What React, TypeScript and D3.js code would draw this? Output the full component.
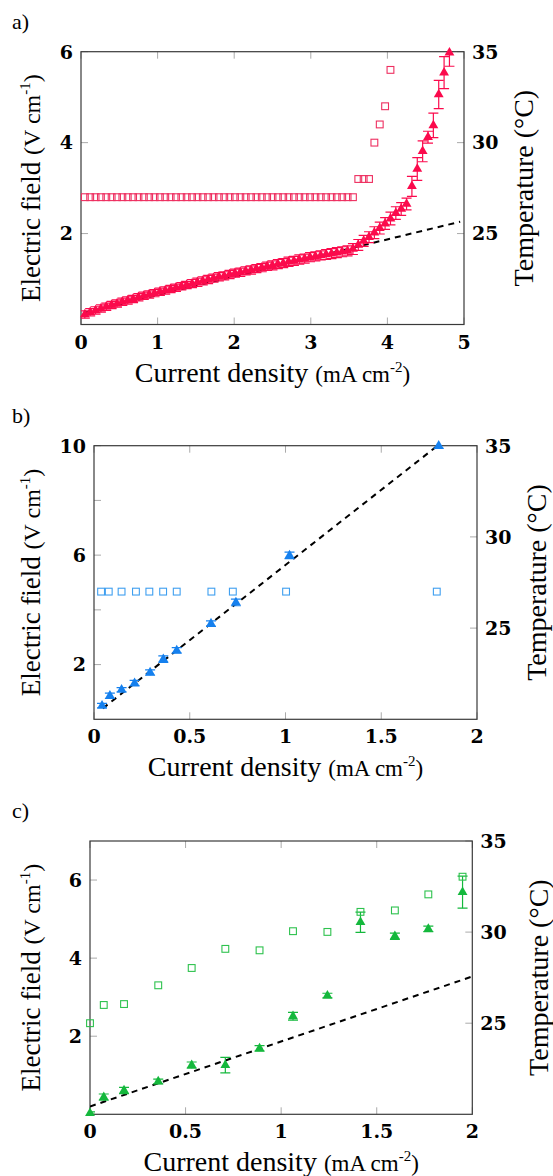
import React from "react";
import * as d3 from "d3";

// ---- panel a) ----
const aJ = [
  0.05, 0.12, 0.19, 0.26, 0.33, 0.4, 0.47, 0.54, 0.61, 0.68,
  0.75, 0.82, 0.89, 0.96, 1.03, 1.1, 1.17, 1.24, 1.31, 1.38,
  1.45, 1.52, 1.59, 1.66, 1.73, 1.8, 1.87, 1.94, 2.01, 2.08,
  2.15, 2.22, 2.29, 2.36, 2.43, 2.5, 2.57, 2.64, 2.71, 2.78,
  2.85, 2.92, 2.99, 3.06, 3.13, 3.2, 3.27, 3.34, 3.41, 3.48,
  3.55, 3.62, 3.69, 3.76, 3.83, 3.9, 3.97, 4.04, 4.11, 4.18,
  4.25, 4.32, 4.39, 4.46, 4.53, 4.6, 4.67, 4.74, 4.81,
];
const aE = [
  0.22, 0.27, 0.31, 0.35, 0.39, 0.43, 0.46, 0.5, 0.53, 0.56,
  0.6, 0.63, 0.66, 0.69, 0.72, 0.75, 0.78, 0.81, 0.84, 0.87,
  0.9, 0.93, 0.96, 0.99, 1.02, 1.05, 1.07, 1.1, 1.13, 1.15,
  1.18, 1.2, 1.23, 1.25, 1.28, 1.3, 1.33, 1.35, 1.38, 1.4,
  1.43, 1.45, 1.48, 1.5, 1.52, 1.54, 1.56, 1.58, 1.6, 1.62,
  1.66, 1.75, 1.84, 1.92, 2.02, 2.12, 2.22, 2.33, 2.45, 2.54,
  2.65, 3.04, 3.42, 3.81, 4.12, 4.38, 5.06, 5.54, 5.98,
];
const aErr = [
  0.08, 0.08, 0.08, 0.08, 0.08, 0.08, 0.08, 0.08, 0.08, 0.08,
  0.08, 0.08, 0.08, 0.08, 0.08, 0.08, 0.08, 0.08, 0.08, 0.08,
  0.09, 0.09, 0.09, 0.09, 0.09, 0.09, 0.09, 0.09, 0.09, 0.09,
  0.09, 0.09, 0.09, 0.09, 0.09, 0.1, 0.1, 0.1, 0.1, 0.1,
  0.1, 0.1, 0.1, 0.1, 0.1, 0.11, 0.11, 0.11, 0.11, 0.11,
  0.12, 0.12, 0.12, 0.12, 0.13, 0.13, 0.13, 0.14, 0.14, 0.14,
  0.13, 0.22, 0.25, 0.23, 0.13, 0.27, 0.31, 0.35, 0.3,
];
const aTJ = [
  0.05, 0.12, 0.19, 0.26, 0.33, 0.4, 0.47, 0.54, 0.61, 0.68,
  0.75, 0.82, 0.89, 0.96, 1.03, 1.1, 1.17, 1.24, 1.31, 1.38,
  1.45, 1.52, 1.59, 1.66, 1.73, 1.8, 1.87, 1.94, 2.01, 2.08,
  2.15, 2.22, 2.29, 2.36, 2.43, 2.5, 2.57, 2.64, 2.71, 2.78,
  2.85, 2.92, 2.99, 3.06, 3.13, 3.2, 3.27, 3.34, 3.41, 3.48,
  3.55, 3.62, 3.69, 3.76, 3.83, 3.9, 3.97, 4.04,
];
const aT = [
  27, 27, 27, 27, 27, 27, 27, 27, 27, 27,
  27, 27, 27, 27, 27, 27, 27, 27, 27, 27,
  27, 27, 27, 27, 27, 27, 27, 27, 27, 27,
  27, 27, 27, 27, 27, 27, 27, 27, 27, 27,
  27, 27, 27, 27, 27, 27, 27, 27, 27, 27,
  27, 28, 28, 28, 30, 31, 32, 34,
];
const aFitJ = [0.05, 4.95];
const aFitE = [0.26, 2.26];

// ---- panel b) ----
const bJ = [0.042, 0.083, 0.144, 0.212, 0.293, 0.362, 0.432, 0.611, 0.741, 1.021, 1.8];
const bE = [0.5, 0.86, 1.08, 1.32, 1.71, 2.2, 2.52, 3.5, 4.27, 5.99, 10.0];
const bErr = [0.08, 0.1, 0.08, 0.1, 0.1, 0.12, 0.1, 0.1, 0.12, 0.12, 0.1];
const bTJ = [0.037, 0.077, 0.144, 0.219, 0.289, 0.361, 0.432, 0.613, 0.725, 1.003, 1.79];
const bT = [27, 27, 27, 27, 27, 27, 27, 27, 27, 27, 27];
const bFitJ = [0.046, 1.794];
const bFitE = [0.4, 10.0];

// ---- panel c) ----
const cJ = [0.0, 0.072, 0.178, 0.357, 0.532, 0.708, 0.887, 1.062, 1.242, 1.415, 1.595, 1.77, 1.949];
const cE = [0.03, 0.44, 0.61, 0.84, 1.26, 1.26, 1.69, 2.51, 3.04, 4.92, 4.56, 4.75, 5.69];
const cErr = [0.03, 0.08, 0.08, 0.06, 0.08, 0.2, 0.07, 0.1, 0.06, 0.26, 0.08, 0.07, 0.41];
const cTJ = [0.0, 0.072, 0.178, 0.357, 0.532, 0.708, 0.887, 1.062, 1.242, 1.415, 1.595, 1.77, 1.949];
const cT = [25.0, 26.0, 26.05, 27.08, 28.03, 29.08, 29.0, 30.05, 30.01, 31.11, 31.19, 32.07, 33.04];
const cFitJ = [0.0, 2.0];
const cFitE = [0.2, 3.53];

const xTicks5 = [0, 1, 2, 3, 4, 5];
const xTicks2 = [0, 0.5, 1, 1.5, 2];
const tTicks = [25, 30, 35];

const W = 553, H = 1176;
const tickFont = "'DejaVu Serif', serif";
const labelFont = "'Liberation Serif', 'Times New Roman', serif";

const Panel = ({ id, tag, box, tempX, xDomain, xTicks, yDomain, yTicks, yLabels, J, E, err, TJ, T, fitJ, fitE, tri, sq }) => {
  const { left, right, top, bottom } = box;
  const x = d3.scaleLinear().domain(xDomain).range([left, right]);
  const y = d3.scaleLinear().domain(yDomain).range([bottom, top]);
  const yT = d3.scaleLinear().domain([20, 35]).range([bottom, top]);
  const triPath = d3.symbol().type(d3.symbolTriangle).size(42)();
  const fit = d3.line().x((d) => x(d[0])).y((d) => y(d[1]))(fitJ.map((j, i) => [j, fitE[i]]));
  const tl = 7;
  const cx = (left + right) / 2, cy = (top + bottom) / 2;
  return (
    <g>
      <defs>
        <clipPath id={id}>
          <rect x={left} y={top} width={right - left} height={bottom - top} />
        </clipPath>
      </defs>
      <text x={12} y={top - 23} fontFamily={labelFont} fontSize={22}>{tag}</text>
      {/* ticks */}
      {xTicks.map((t) => (
        <g key={"xt" + t} stroke="#aaa" strokeWidth={1}>
          <line x1={x(t)} x2={x(t)} y1={bottom} y2={bottom - tl} />
          <line x1={x(t)} x2={x(t)} y1={top} y2={top + tl} />
        </g>
      ))}
      {yTicks.map((t) => (
        <line key={"yt" + t} x1={left} x2={left + tl} y1={y(t)} y2={y(t)} stroke="#aaa" />
      ))}
      {tTicks.map((t) => (
        <line key={"tt" + t} x1={right} x2={right - tl} y1={yT(t)} y2={yT(t)} stroke="#aaa" />
      ))}
      <rect x={left} y={top} width={right - left} height={bottom - top} fill="none" stroke="#3a3a3a" strokeWidth={1.2} />
      {/* tick labels */}
      {xTicks.map((t) => (
        <text key={"xl" + t} x={x(t)} y={bottom + 24} textAnchor="middle" fontFamily={tickFont} fontWeight="bold" fontSize={19}>{String(t)}</text>
      ))}
      {yLabels.map((t) => (
        <text key={"yl" + t} x={left - 8} y={y(t)} dy="0.36em" textAnchor="end" fontFamily={tickFont} fontWeight="bold" fontSize={19}>{String(t)}</text>
      ))}
      {tTicks.map((t) => (
        <text key={"tl" + t} x={right + 8} y={yT(t)} dy="0.36em" fontFamily={tickFont} fontWeight="bold" fontSize={19}>{String(t)}</text>
      ))}
      {/* axis labels */}
      <text x={cx} y={bottom + 57} textAnchor="middle" fontFamily={labelFont} fontSize={28}>
        Current density <tspan fontSize={23}>(mA cm</tspan><tspan fontSize={15} dy={-10}>-2</tspan><tspan fontSize={23} dy={10}>)</tspan>
      </text>
      <text transform={`translate(40,${cy}) rotate(-90)`} textAnchor="middle" fontFamily={labelFont} fontSize={27}>
        Electric field <tspan fontSize={24}>(V cm</tspan><tspan fontSize={15} dy={-10}>-1</tspan><tspan fontSize={24} dy={10}>)</tspan>
      </text>
      <text transform={`translate(${tempX},${cy}) rotate(-90)`} textAnchor="middle" fontFamily={labelFont} fontSize={28}>
        Temperature (°C)
      </text>
      {/* fit line and error bars are clipped to the axis box, markers are not */}
      <g clipPath={`url(#${id})`}>
        <path d={fit} fill="none" stroke="#000" strokeWidth={2} strokeDasharray="6,5" />
        {J.map((j, i) => {
          const px = x(j);
          const y1 = y(E[i] + err[i]), y2 = y(E[i] - err[i]);
          return (
            <g key={"e" + i} stroke={tri} strokeWidth={1.2}>
              <line x1={px} x2={px} y1={y1} y2={y2} />
              <line x1={px - 5} x2={px + 5} y1={y1} y2={y1} />
              <line x1={px - 5} x2={px + 5} y1={y2} y2={y2} />
            </g>
          );
        })}
      </g>
      {J.map((j, i) => (
        <path key={"m" + i} d={triPath} transform={`translate(${x(j)},${y(E[i])})`} fill={tri} />
      ))}
      {TJ.map((j, i) => (
        <rect key={"s" + i} x={x(j) - 3.4} y={yT(T[i]) - 3.4} width={6.8} height={6.8} fill="none" stroke={sq} strokeWidth={1.1} />
      ))}
    </g>
  );
};

export default function App() {
  return (
    <div style={{ position: "absolute", left: 0, top: 0, background: "#fff" }}>
      <svg width={W} height={H} viewBox={`0 0 ${W} ${H}`}>
        <rect width={W} height={H} fill="#fff" />
        <Panel id="clipA" tag="a)" box={{ left: 81, right: 464, top: 51.7, bottom: 324.5 }} tempX={533}
          xDomain={[0, 5]} xTicks={xTicks5} yDomain={[0, 6]} yTicks={[2, 4, 6]} yLabels={[2, 4, 6]}
          J={aJ} E={aE} err={aErr} TJ={aTJ} T={aT} fitJ={aFitJ} fitE={aFitE} tri="#fb0a4c" sq="#ee2f60" />
        <Panel id="clipB" tag="b)" box={{ left: 94, right: 477, top: 445.7, bottom: 719.3 }} tempX={546}
          xDomain={[0, 2]} xTicks={xTicks2} yDomain={[0, 10]} yTicks={[2, 4, 6, 8, 10]} yLabels={[2, 6, 10]}
          J={bJ} E={bE} err={bErr} TJ={bTJ} T={bT} fitJ={bFitJ} fitE={bFitE} tri="#1580ee" sq="#3f9ff0" />
        <Panel id="clipC" tag="c)" box={{ left: 90, right: 472.3, top: 841, bottom: 1114.3 }} tempX={548}
          xDomain={[0, 2]} xTicks={xTicks2} yDomain={[0, 7]} yTicks={[2, 4, 6]} yLabels={[2, 4, 6]}
          J={cJ} E={cE} err={cErr} TJ={cTJ} T={cT} fitJ={cFitJ} fitE={cFitE} tri="#14b83c" sq="#2ec24e" />
      </svg>
    </div>
  );
}
